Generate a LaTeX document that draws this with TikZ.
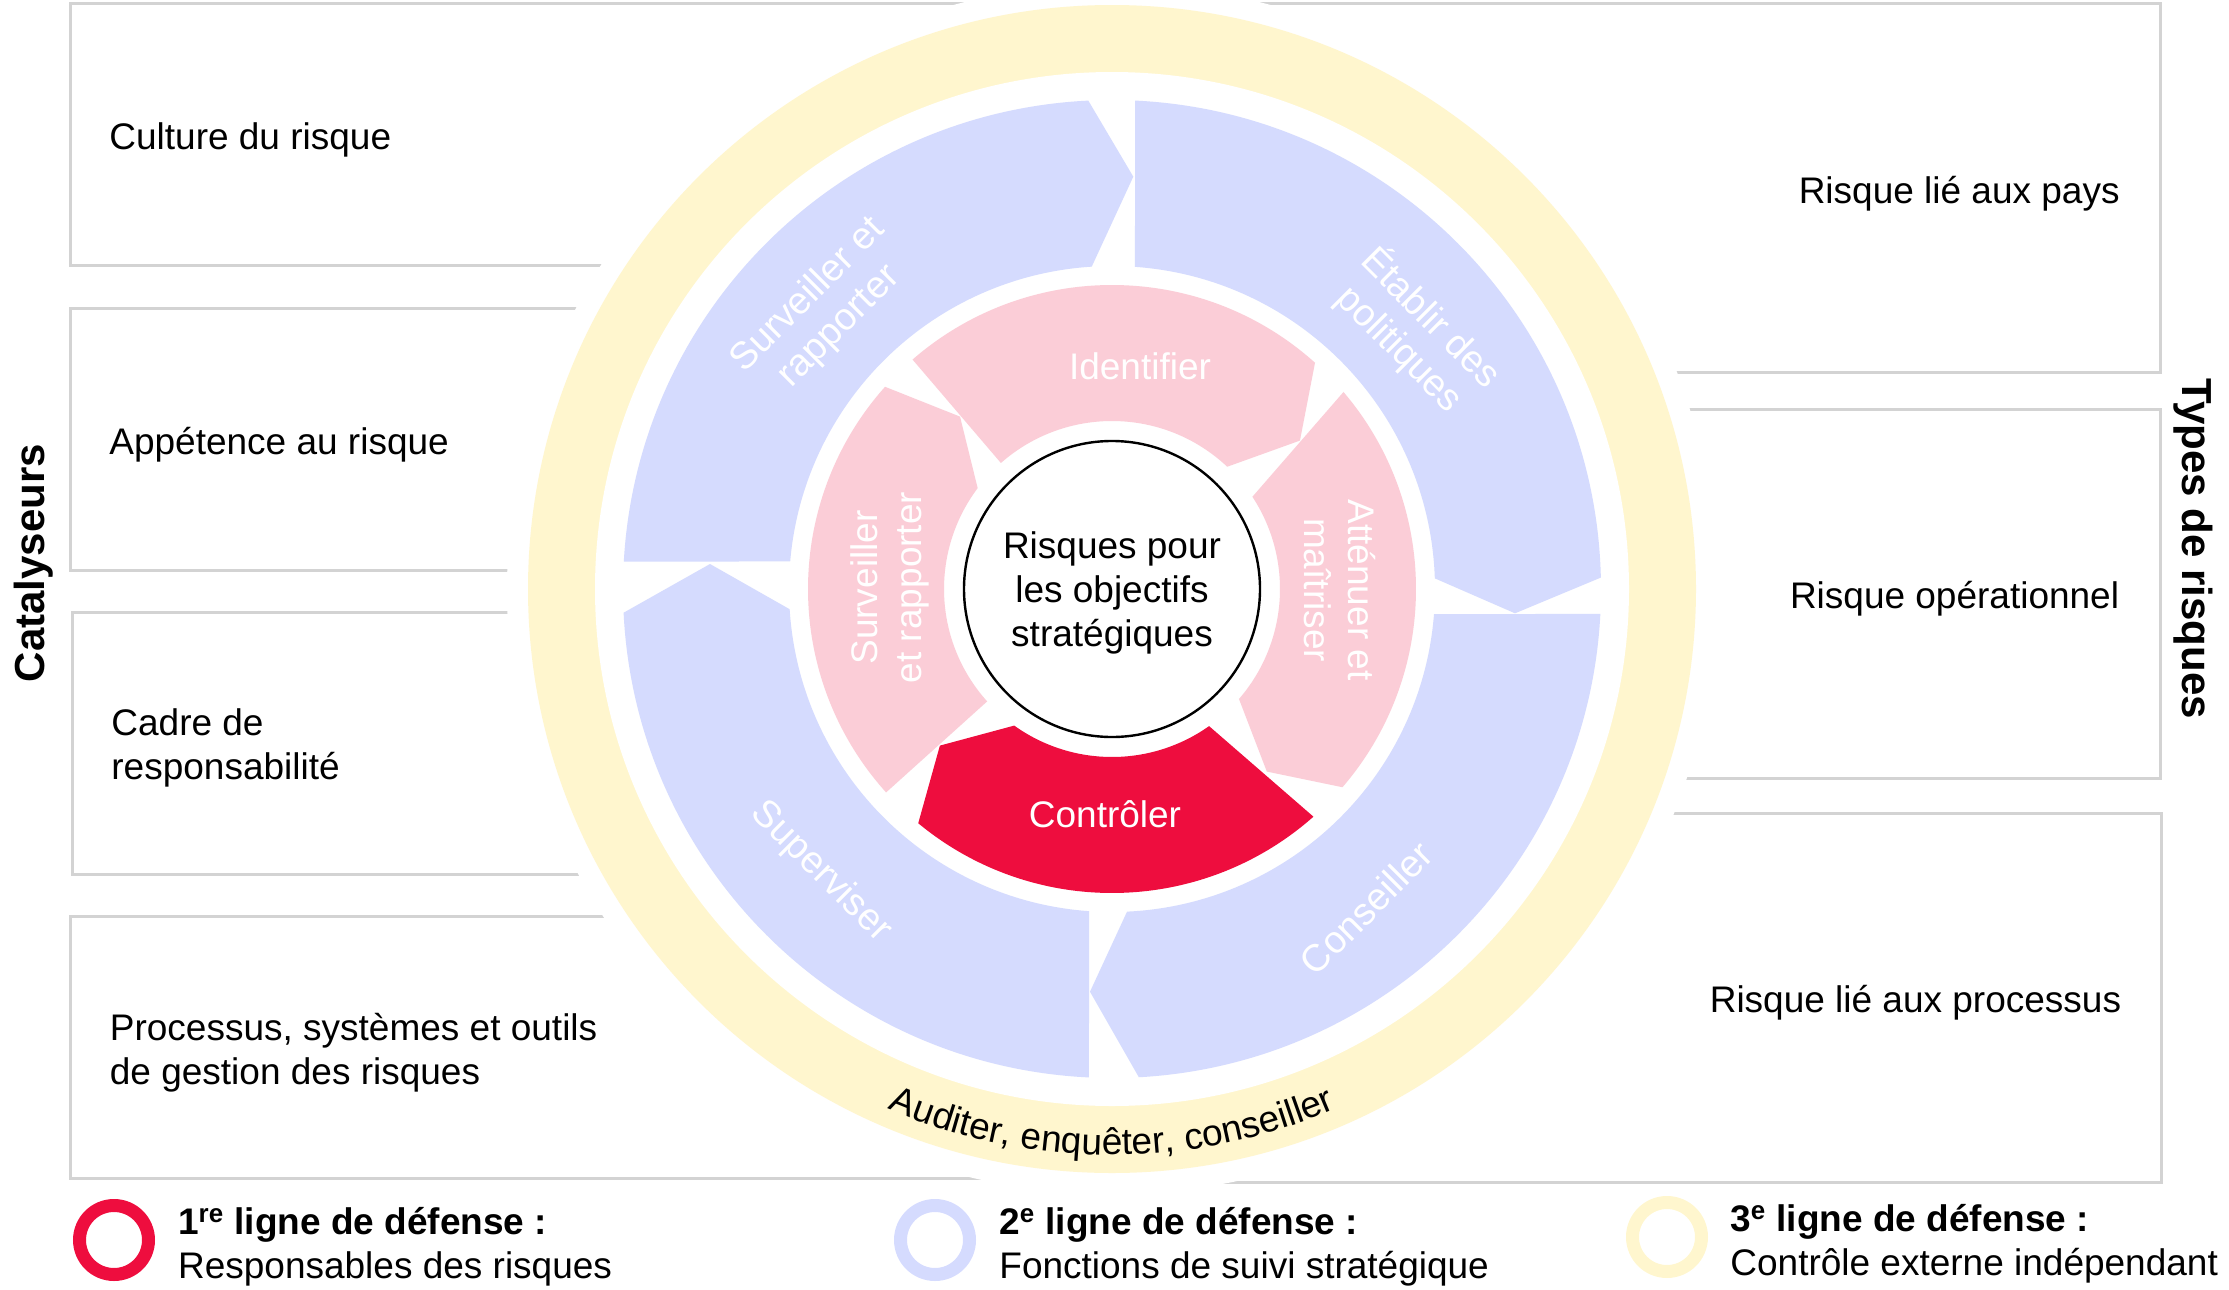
\documentclass[tikz,border=0pt]{standalone}
\usepackage{fontspec}
\setmainfont{Liberation Sans}
\usetikzlibrary{decorations.text}

\newlength{\du}
\setlength{\du}{0.5pt}

\definecolor{ringyellow}{rgb}{1.000000, 0.964706, 0.807843}
\definecolor{ringblue}{rgb}{0.835294, 0.858824, 0.996078}
\definecolor{ringpink}{rgb}{0.984314, 0.803922, 0.843137}
\definecolor{ringred}{rgb}{0.933333, 0.050980, 0.243137}
\definecolor{panelgray}{rgb}{0.827451, 0.827451, 0.827451}

\tikzset{
  panel/.style={draw=panelgray, fill=white, line width=1.5pt},
  bluearrow/.style={fill=ringblue},
  pinkarrow/.style={fill=ringpink},
  redarrow/.style={fill=ringred},
  panellabel/.style={inner sep=0pt, font=\fontsize{18.5}{22}\selectfont},
  bluelabel/.style={inner sep=0pt, text=white, align=center, font=\fontsize{19}{22}\selectfont},
  pinklabel/.style={inner sep=0pt, text=white, align=center, font=\fontsize{18.5}{22}\selectfont},
  sidetitle/.style={inner sep=0pt, font=\bfseries\fontsize{21}{25}\selectfont},
  legendring/.style={circle, minimum size=34.5pt, line width=6.5pt, inner sep=0pt},
  legendlabel/.style={inner sep=0pt, align=left, anchor=west, font=\fontsize{18.5}{22}\selectfont},
}

\begin{document}
\begin{tikzpicture}[x=1\du,y=-1\du]
\useasboundingbox (0,0) rectangle (2229,1290);
% panels left
\draw[panel] (70,3.8) rectangle (1112,265.6);
\draw[panel] (70,308.4) rectangle (1112,570);
\draw[panel] (72,612.2) rectangle (1112,874);
\draw[panel] (70,916.8) rectangle (1112,1178.6);
% panels right
\draw[panel] (1112,3.8) rectangle (2160,372.7);
\draw[panel] (1112,409.4) rectangle (2160,778.3);
\draw[panel] (1112,813.5) rectangle (2161.6,1182.4);
% wheel
\fill[white] (1112,589) circle[radius=605];
\begin{scope}[shift={(1112,589)},y=1\du]
\fill[ringyellow] (0,0) circle[radius=584];
\fill[white] (0,0) circle[radius=517];
% blue ring, clockwise
\fill[bluearrow] (176.78:489) arc[start angle=176.78, end angle=92.78, radius=489]
  -- (21.3,412.3) -- (93.6:323) arc[start angle=93.6, end angle=175.11, radius=323] -- cycle;
\fill[bluearrow] (87.3:489) arc[start angle=87.3, end angle=1.34, radius=489]
  -- (403,-24.3) -- (1.89:323) arc[start angle=1.89, end angle=85.92, radius=323] -- cycle;
\fill[bluearrow] (-2.93:489) arc[start angle=-2.93, end angle=-86.85, radius=489]
  -- (-22,-402.7) -- (-87.33:323) arc[start angle=-87.33, end angle=-4.44, radius=323] -- cycle;
\fill[bluearrow] (267.3:489) arc[start angle=267.3, end angle=182.78, radius=489]
  -- (-402,25) -- (183.59:323) arc[start angle=183.59, end angle=265.92, radius=323] -- cycle;
% pink ring
\fill[pinkarrow] (131:304) arc[start angle=131, end angle=48.1, radius=304]
  -- (38.3:239.5) -- (46.7:168) arc[start angle=46.7, end angle=131.4, radius=168] -- cycle;
\fill[pinkarrow] (40.4:304) arc[start angle=40.4, end angle=-40.7, radius=304]
  -- (-49.7:239.4) -- (-40.9:168) arc[start angle=-40.9, end angle=33.3, radius=168] -- cycle;
\fill[redarrow] (-48.5:304) arc[start angle=-48.5, end angle=-129.6, radius=304]
  -- (-137.7:232.7) -- (-125.6:168) arc[start angle=-125.6, end angle=-54.7, radius=168] -- cycle;
\fill[pinkarrow] (222:304) arc[start angle=222, end angle=138.3, radius=304]
  -- (131.4:229.8) -- (143.1:168) arc[start angle=143.1, end angle=222, radius=168] -- cycle;
% centre
\node[circle, draw=black, fill=white, line width=1.2pt, minimum size=148pt, inner sep=0pt] (centre) at (0,0) {};
\node[pinklabel, text=black] (centretext) at (0,-4) {Risques pour\\les objectifs\\stratégiques};
% labels on the wheel
\node[bluelabel, rotate=45] (surveillerbleu) at (-288,278) {Surveiller et\\rapporter};
\node[bluelabel, rotate=-45] (etablir) at (304,256) {Établir des\\politiques};
\node[bluelabel, rotate=45] (conseiller) at (254,-319) {Conseiller};
\node[bluelabel, rotate=-45] (superviser) at (-291,-283) {Superviser};
\node[pinklabel, anchor=base] (identifier) at (28,210) {Identifier};
\node[pinklabel, rotate=90] (surveillerrose) at (-222,1.5) {Surveiller\\et rapporter};
\node[pinklabel, rotate=-90] (attenuer) at (228,-1) {Atténuer et\\maîtriser};
\node[pinklabel, anchor=base] (controler) at (-7,-238) {Contrôler};
\path[decorate, decoration={text along path, text align=center,
  text={|\fontsize{18.5}{22}\selectfont|Auditer, enquêter, conseiller}}]
  (236:566) arc[start angle=236, end angle=304, radius=566];
\end{scope}
% panel texts
\node[panellabel, anchor=base west] (culture) at (109,149) {Culture du risque};
\node[panellabel, anchor=base west] (appetence) at (109,454) {Appétence au risque};
\node[panellabel, anchor=west, align=left] (cadre) at (111,748) {Cadre de\\responsabilité};
\node[panellabel, anchor=west, align=left] (outils) at (109.5,1053) {Processus, systèmes et outils\\de gestion des risques};
\node[panellabel, anchor=base east] (pays) at (2120,203.5) {Risque lié aux pays};
\node[panellabel, anchor=base east] (operationnel) at (2119.5,608.5) {Risque opérationnel};
\node[panellabel, anchor=base east] (processus) at (2121.5,1012.5) {Risque lié aux processus};
\node[sidetitle, rotate=90] (catalyseurs) at (34,563) {Catalyseurs};
\node[sidetitle, rotate=-90] (types) at (2193,549) {Types de risques};
% legend
\node[legendring, draw=ringred] (redring) at (114,1240) {};
\node[legendring, draw=ringblue] (bluering) at (935,1240) {};
\node[legendring, draw=ringyellow] (yellowring) at (1667,1237) {};
\node[legendlabel] (redtext) at (177.7,1247) {\textbf{1\textsuperscript{re} ligne de défense :}\\Responsables des risques};
\node[legendlabel] (bluetext) at (999,1247) {\textbf{2\textsuperscript{e} ligne de défense :}\\Fonctions de suivi stratégique};
\node[legendlabel] (yellowtext) at (1730,1244) {\textbf{3\textsuperscript{e} ligne de défense :}\\Contrôle externe indépendant};
\end{tikzpicture}
\end{document}
